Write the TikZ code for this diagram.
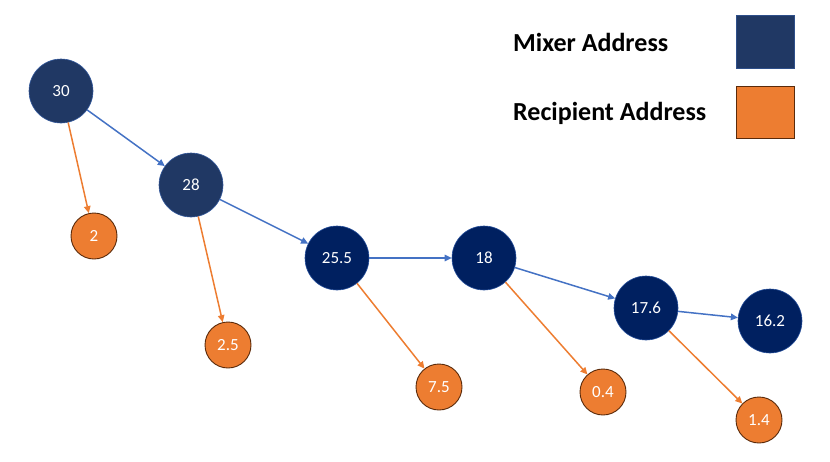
\documentclass[tikz,border=0pt]{standalone}
\usepackage{fontspec}
\setmainfont{Carlito}
\usetikzlibrary{arrows.meta}
\definecolor{mixA}{HTML}{203864}
\definecolor{mixB}{HTML}{002060}
\definecolor{mixEdge}{HTML}{4472C4}
\definecolor{rec}{HTML}{ED7D31}
\definecolor{recEdge}{HTML}{5A2A0A}
\definecolor{blueArrow}{HTML}{4472C4}
\tikzset{
  mixnode/.style={circle, fill=#1, draw=mixEdge!60!#1, line width=0.6pt, minimum size=64pt, inner sep=0pt, text=white, font=\fontsize{17}{20}\selectfont},
  recnode/.style={circle, fill=rec, draw=recEdge, line width=0.9pt, minimum size=46pt, inner sep=0pt, text=white, font=\fontsize{17}{20}\selectfont},
  mixarrow/.style={draw=blueArrow, line width=1.5pt, -{Triangle[length=7pt,width=6.5pt]}},
  recarrow/.style={draw=rec, line width=1.5pt, -{Triangle[length=7pt,width=6.5pt]}},
  legtext/.style={anchor=west, font=\fontsize{26}{30}\selectfont\bfseries, text=black, inner sep=0pt},
}
\begin{document}
\begin{tikzpicture}[x=1pt,y=-1pt]
\useasboundingbox (0,0) rectangle (830,461);
% mixer nodes
\node[mixnode=mixA] (m30) at (61,91) {30};
\node[mixnode=mixA] (m28) at (191,185) {28};
\node[mixnode=mixB] (m255) at (337,258) {25.5};
\node[mixnode=mixB] (m18) at (484,258) {18};
\node[mixnode=mixB] (m176) at (646,308) {17.6};
\node[mixnode=mixB] (m162) at (770,321) {16.2};
% recipient nodes
\node[recnode] (r2) at (94,236) {2};
\node[recnode] (r25) at (228,345) {2.5};
\node[recnode] (r75) at (439,387) {7.5};
\node[recnode] (r04) at (603,392) {0.4};
\node[recnode] (r14) at (759,420) {1.4};
% arrows
\draw[mixarrow] (m30) -- (m28);
\draw[mixarrow] (m28) -- (m255);
\draw[mixarrow] (m255) -- (m18);
\draw[mixarrow] (m18) -- (m176);
\draw[mixarrow] (m176) -- (m162);
\draw[recarrow] (m30) -- (r2);
\draw[recarrow] (m28) -- (r25);
\draw[recarrow] (m255) -- (r75);
\draw[recarrow] (m18) -- (r04);
\draw[recarrow] (m176) -- (r14);
% legend
\node[legtext] (lmix) at (513,42) {Mixer Address};
\node[legtext] (lrec) at (513,113) {Recipient Address};
\node[draw=mixEdge!40!mixA, fill=mixA, minimum width=58pt, minimum height=53pt, inner sep=0pt, line width=0.6pt] (bmix) at (765,41.5) {};
\node[draw=recEdge, fill=rec, minimum width=58pt, minimum height=52pt, inner sep=0pt, line width=0.9pt] (brec) at (765,112) {};
\end{tikzpicture}
\end{document}
